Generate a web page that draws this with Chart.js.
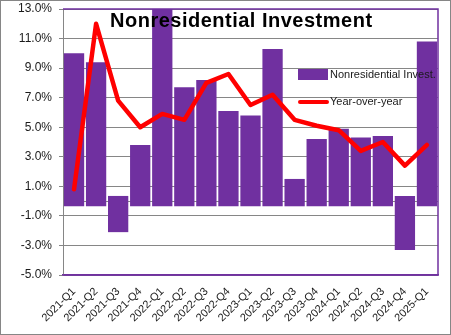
<!DOCTYPE html>
<html>
<head>
<meta charset="utf-8">
<script src="https://cdn.jsdelivr.net/npm/chart.js@4/dist/chart.umd.min.js"></script>
<style>
  html, body { margin: 0; padding: 0; background: #fff; }
  #wrap { width: 451px; height: 335px; }
</style>
</head>
<body>
<div id="wrap"><canvas id="chart" width="451" height="335"></canvas></div>
<script>
const quarters = [
  "2021-Q1", "2021-Q2", "2021-Q3", "2021-Q4",
  "2022-Q1", "2022-Q2", "2022-Q3", "2022-Q4",
  "2023-Q1", "2023-Q2", "2023-Q3", "2023-Q4",
  "2024-Q1", "2024-Q2", "2024-Q3", "2024-Q4",
  "2025-Q1"
];
// quarterly change, annualized (%)
const nonresInvest = [10.0, 9.4, -2.1, 3.8, 14.0, 7.7, 8.2, 6.1, 5.8, 10.3, 1.5, 4.2, 4.9, 4.3, 4.4, -3.3, 10.8];
// year-over-year change (%)
const yoy = [0.8, 12.0, 6.8, 5.0, 5.9, 5.5, 8.0, 8.6, 6.5, 7.2, 5.5, 5.1, 4.8, 3.4, 4.0, 2.4, 3.8];
const yMin = -5, yMax = 13, yStep = 2;

const PURPLE = "#7030A0";
const RED = "#FF0000";
const GRID = "#868686";
const TEXT = "#1a1a1a";

// excel-style bars poke a little past the zero line on the far side
const overhang = 0.35;
const barRanges = nonresInvest.map(v => [v >= 0 ? -overhang : overhang, v]);

const extras = {
  id: "extras",
  beforeDatasetsDraw(chart) {
    const { ctx, chartArea: a, scales: { y } } = chart;
    const y0 = Math.round(y.getPixelForValue(0)) + 0.5;
    ctx.save();
    ctx.strokeStyle = GRID;
    ctx.lineWidth = 1;
    ctx.beginPath();
    ctx.moveTo(a.left, y0);
    ctx.lineTo(a.right, y0);
    ctx.stroke();
    ctx.restore();
  },
  afterDraw(chart) {
    const { ctx, chartArea: a } = chart;
    ctx.save();
    // plot frame (top / right / bottom)
    ctx.strokeStyle = PURPLE;
    ctx.lineWidth = 1.5;
    ctx.beginPath();
    ctx.moveTo(a.left, a.top);
    ctx.lineTo(a.right, a.top);
    ctx.lineTo(a.right, a.bottom);
    ctx.lineTo(a.left, a.bottom);
    ctx.stroke();

    // outer frame
    ctx.strokeStyle = GRID;
    ctx.lineWidth = 1;
    ctx.strokeRect(0.5, 0.5, chart.width - 1, chart.height - 1);

    // title
    ctx.fillStyle = "#000";
    ctx.font = "bold 20px 'Liberation Sans', Arial, sans-serif";
    ctx.letterSpacing = "0.5px";
    ctx.textBaseline = "alphabetic";
    ctx.textAlign = "left";
    ctx.fillText("Nonresidential Investment", 110, 27);
    ctx.letterSpacing = "0px";

    // legend
    const ds = chart.data.datasets;
    ctx.font = "11px 'Liberation Sans', Arial, sans-serif";
    ctx.textBaseline = "middle";
    ctx.fillStyle = PURPLE;
    ctx.fillRect(298, 69, 30, 11);
    ctx.fillStyle = TEXT;
    ctx.fillText(ds[1].label, 330, 75);

    ctx.strokeStyle = RED;
    ctx.lineWidth = 4;
    ctx.lineCap = "round";
    ctx.beginPath();
    ctx.moveTo(300, 102);
    ctx.lineTo(327, 102);
    ctx.stroke();
    ctx.fillStyle = TEXT;
    ctx.fillText(ds[0].label, 330, 102);
    ctx.restore();
  }
};

new Chart(document.getElementById("chart"), {
  type: "bar",
  data: {
    labels: quarters,
    datasets: [
      {
        type: "line",
        label: "Year-over-year",
        data: yoy,
        borderColor: RED,
        backgroundColor: RED,
        borderWidth: 4.5,
        borderJoinStyle: "round",
        borderCapStyle: "round",
        pointRadius: 0,
        tension: 0,
        order: 0
      },
      {
        label: "Nonresidential Invest.",
        data: barRanges,
        backgroundColor: PURPLE,
        borderWidth: 0,
        categoryPercentage: 1.0,
        barPercentage: 0.92,
        order: 1
      }
    ]
  },
  options: {
    responsive: false,
    animation: false,
    layout: { padding: { left: 0, top: 9, right: 13, bottom: 0 } },
    plugins: {
      legend: { display: false },
      title: { display: false },
      tooltip: { enabled: false }
    },
    scales: {
      x: {
        grid: { display: false },
        border: { color: PURPLE, width: 1.5 },
        ticks: {
          color: TEXT,
          font: { family: "'Liberation Sans', Arial, sans-serif", size: 11 },
          minRotation: 45,
          maxRotation: 45,
          padding: 2,
          autoSkip: false
        },
        afterFit(scale) {
          scale.height = 60;
          scale.paddingLeft = 0;
          scale.paddingRight = 0;
        }
      },
      y: {
        min: yMin,
        max: yMax,
        grid: { color: GRID, lineWidth: 1, tickLength: 4 },
        border: { color: GRID, width: 1 },
        ticks: {
          stepSize: yStep,
          color: TEXT,
          padding: 7,
          font: { family: "'Liberation Sans', Arial, sans-serif", size: 12 },
          callback: v => v.toFixed(1) + "%"
        },
        afterFit(scale) {
          scale.width = 63;
          scale.paddingTop = 0;
          scale.paddingBottom = 0;
        }
      }
    }
  },
  plugins: [extras]
});
</script>
</body>
</html>
